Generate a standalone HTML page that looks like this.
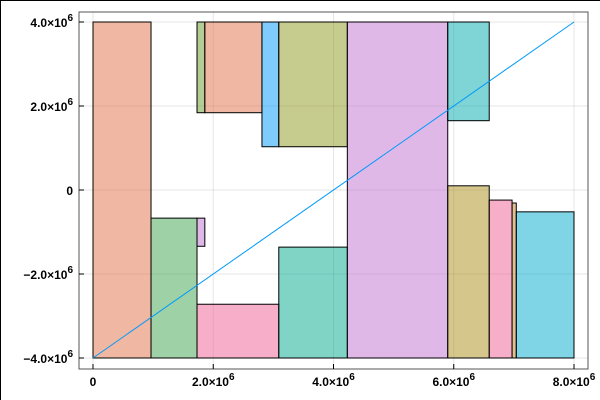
<!DOCTYPE html>
<html><head><meta charset="utf-8"><style>
body{margin:0;background:#fff}
svg{display:block;font-family:"Liberation Sans",sans-serif}
</style></head><body>
<svg id="c" width="600" height="400">
<line x1="0.5" y1="0" x2="0.5" y2="400" stroke="#000"/>
<line x1="0" y1="0.5" x2="600" y2="0.5" stroke="#000"/>
<g id="grid"></g><g id="rects"></g><g id="line"></g><g id="axes"></g>
</svg>
<script>
const rectX0=[0,0.965e6,1.73e6,1.73e6,1.86e6,2.81e6,3.09e6,1.73e6,3.09e6,4.23e6,5.9e6,5.9e6,6.59e6,6.97e6,7.04e6];
const rectX1=[0.965e6,1.73e6,1.86e6,1.86e6,2.81e6,3.09e6,4.23e6,3.09e6,4.23e6,5.9e6,6.59e6,6.59e6,6.97e6,7.04e6,8e6];
const rectY0=[-4e6,-4e6,-1.34e6,1.84e6,1.84e6,1.03e6,1.03e6,-4e6,-4e6,-4e6,1.65e6,-4e6,-4e6,-4e6,-4e6];
const rectY1=[4e6,-0.67e6,-0.67e6,4e6,4e6,4e6,4e6,-2.72e6,-1.36e6,4e6,4e6,0.1e6,-0.24e6,-0.31e6,-0.52e6];
const rectColors=["#e26f46","#3da44d","#c271d2","#6a9a2d","#e26f46","#009af9","#8e971d","#ed5e93","#00a98d","#c271d2","#00a9ad","#ac8d18","#ed5e93","#c68225","#00a9cd"];
const lineX=[0,8e6];
const lineY=[-4e6,4e6];
const xTicks=[0,2e6,4e6,6e6,8e6];
const xTickLabels=["0","2.0×10<tspan dy='-6' font-size='10'>6</tspan>","4.0×10<tspan dy='-6' font-size='10'>6</tspan>","6.0×10<tspan dy='-6' font-size='10'>6</tspan>","8.0×10<tspan dy='-6' font-size='10'>6</tspan>"];
const yTicks=[-4e6,-2e6,0,2e6,4e6];
const yTickLabels=["−4.0×10<tspan dy='-6' font-size='10'>6</tspan>","−2.0×10<tspan dy='-6' font-size='10'>6</tspan>","0","2.0×10<tspan dy='-6' font-size='10'>6</tspan>","4.0×10<tspan dy='-6' font-size='10'>6</tspan>"];
const L=79,R=588,T=12,B=369;
const sx=v=>93+(v/8e6)*(574-93);
const sy=v=>190-(v/4e6)*(190-22);
const NS="http://www.w3.org/2000/svg";
function mk(tag,parent,attrs){const e=document.createElementNS(NS,tag);for(const k in attrs)e.setAttribute(k,attrs[k]);parent.appendChild(e);return e;}
const grid=document.getElementById('grid'),rects=document.getElementById('rects'),ln=document.getElementById('line'),axes=document.getElementById('axes');
xTicks.forEach(v=>{const g=mk('line',grid,{x1:sx(v),x2:sx(v),y1:T,y2:B,stroke:'#000','stroke-opacity':0.1});

});
yTicks.forEach(v=>{const g=mk('line',grid,{x1:L,x2:R,y1:sy(v),y2:sy(v),stroke:'#000','stroke-opacity':0.1});

});
rectX0.forEach((x0,i)=>{const x=sx(x0),w=sx(rectX1[i])-x,y=sy(rectY1[i]),h=sy(rectY0[i])-y;
const r=mk('rect',rects,{x:x,y:y,width:w,height:h,fill:rectColors[i],'fill-opacity':0.5,stroke:'#000','stroke-width':1});

});
const pl=mk('line',ln,{x1:sx(lineX[0]),y1:sy(lineY[0]),x2:sx(lineX[1]),y2:sy(lineY[1]),stroke:'#009af9','stroke-width':1});


const fr=mk('rect',axes,{x:L,y:T,width:R-L,height:B-T,fill:'none',stroke:'#555','stroke-width':1});


xTicks.forEach((v,i)=>{const t=mk('line',axes,{x1:sx(v),x2:sx(v),y1:B,y2:B-5,stroke:'#000'});


const tx=mk('text',axes,{x:sx(v),y:386,'text-anchor':'middle','font-size':12,'font-weight':'bold'});tx.innerHTML=xTickLabels[i];

});
yTicks.forEach((v,i)=>{const t=mk('line',axes,{x1:L,x2:L+5,y1:sy(v),y2:sy(v),stroke:'#000'});


const tx=mk('text',axes,{x:73,y:sy(v)+5,'text-anchor':'end','font-size':12,'font-weight':'bold'});tx.innerHTML=yTickLabels[i];

});
</script>
</body></html>
